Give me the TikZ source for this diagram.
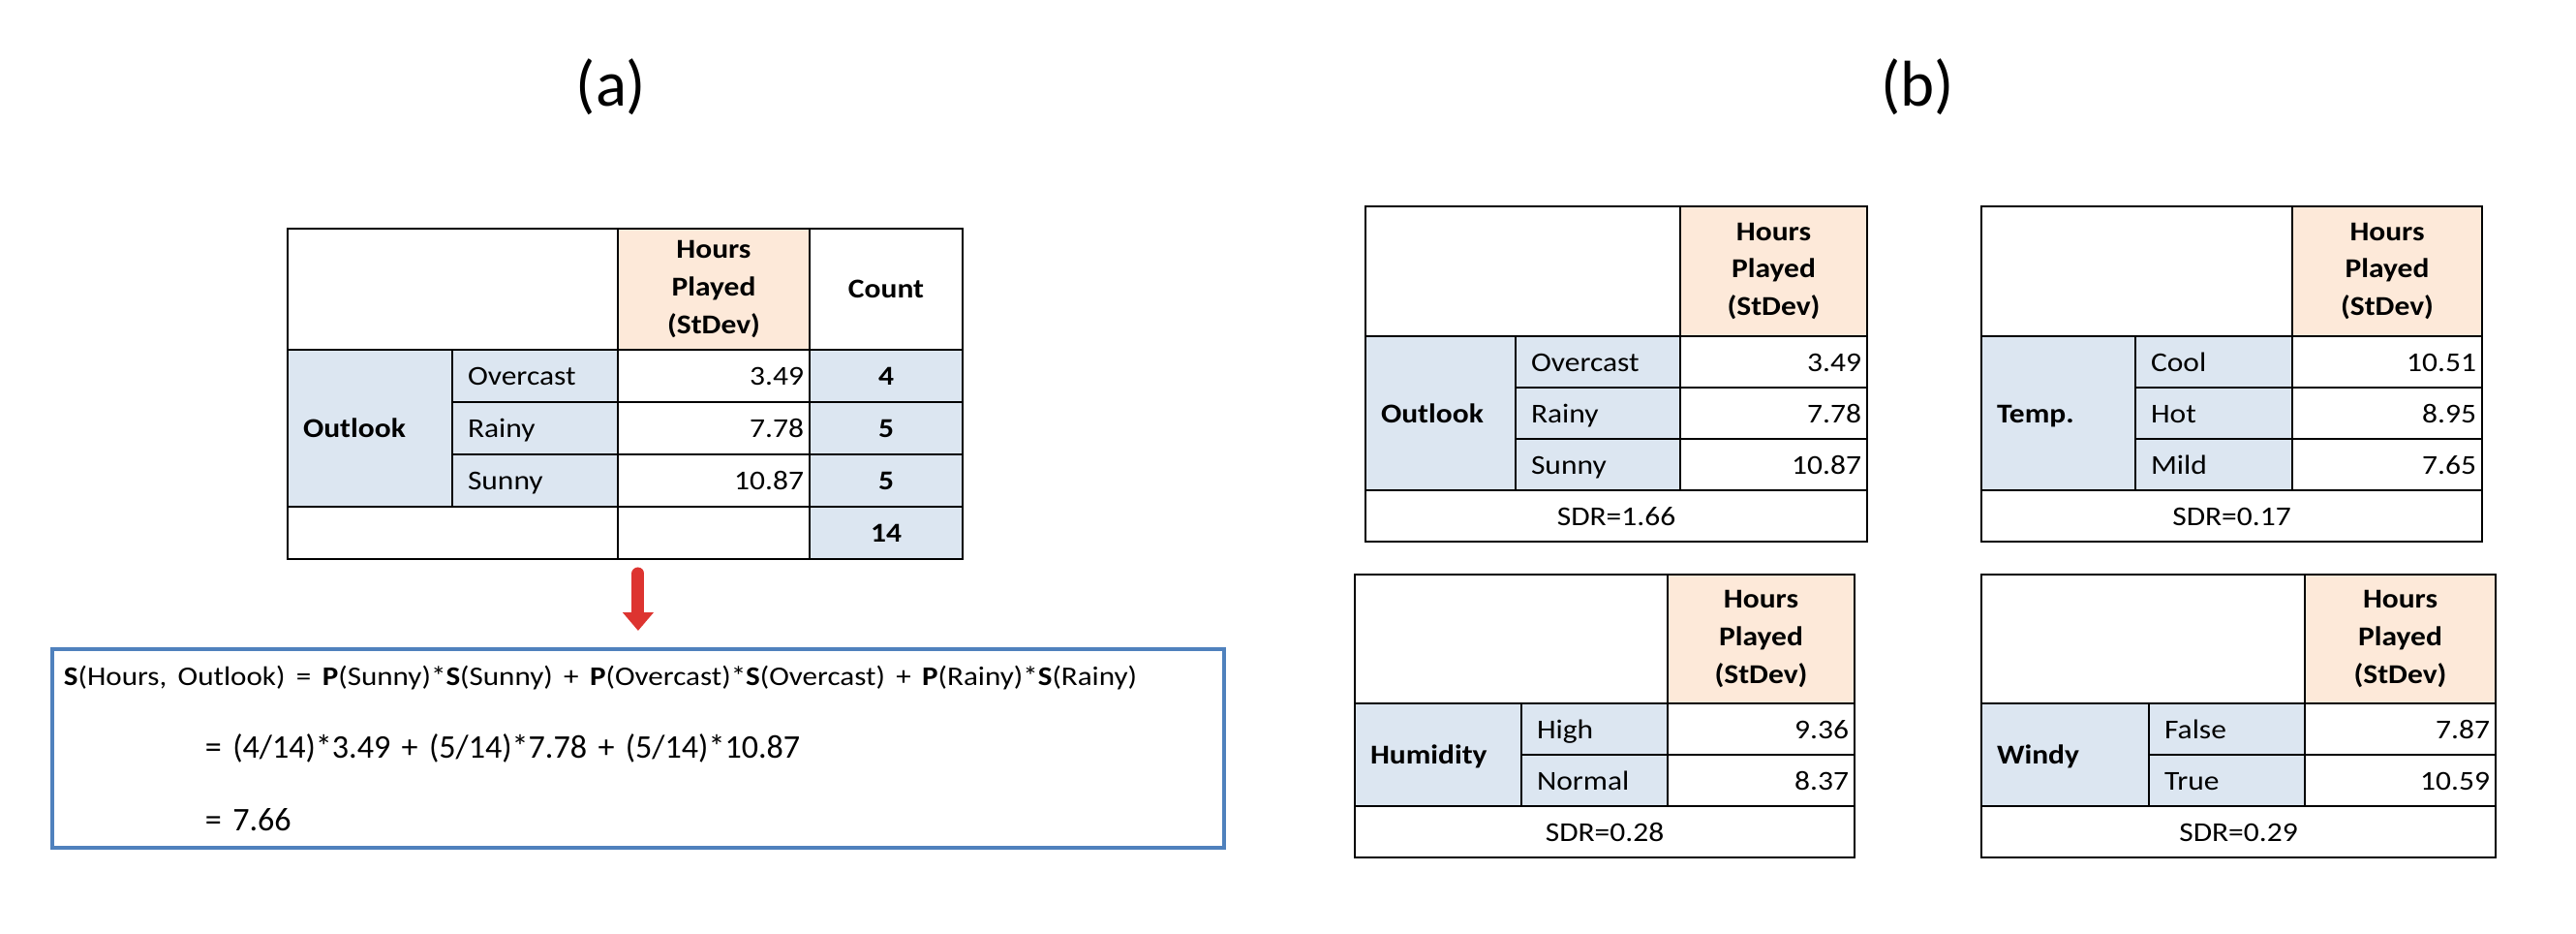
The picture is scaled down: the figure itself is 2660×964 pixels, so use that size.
\documentclass[tikz,border=0pt]{standalone}
\usepackage{fontspec}
\setmainfont{Carlito}
\newfontfamily\widefont[FakeStretch=1.12]{Carlito}
\usepackage{tikz}
\usetikzlibrary{arrows.meta, positioning}
\definecolor{catblue}{RGB}{220, 230, 241}
\definecolor{hdrpeach}{RGB}{253, 233, 217}
\definecolor{boxblue}{RGB}{79, 129, 189}
\definecolor{arrowred}{RGB}{221, 52, 48}
\newcommand{\tblfont}{\widefont\fontsize{8}{11}\selectfont}

\begin{document}
\begin{tikzpicture}[
    x=0.1mm, y=-0.1mm,
    cell/.style={draw=black, line width=0.6pt, anchor=north west, inner sep=0pt, outer sep=0pt, font=\tblfont},
    blank/.style={cell, fill=white},
    hdr/.style={cell, fill=hdrpeach, align=center, font=\tblfont\bfseries},
    grp/.style={cell, fill=catblue, inner xsep=1.6mm, text width=#1, align=left, text height=1.6ex, text depth=0.45ex, font=\tblfont\bfseries},
    cat/.style={cell, fill=catblue, inner xsep=1.6mm, text width=#1, align=left, text height=1.6ex, text depth=0.45ex},
    val/.style={cell, fill=white, inner xsep=0.6mm, text width=#1, align=right, text height=1.6ex, text depth=0.45ex},
    cnt/.style={cell, fill=catblue, text height=1.6ex, text depth=0.45ex, font=\tblfont\bfseries},
    sdr/.style={cell, fill=white, text height=1.6ex, text depth=0.45ex},
    arow/.style={minimum height=5.4mm},
    brow/.style={minimum height=5.3mm},
    title/.style={font=\fontsize{19}{23}\selectfont, inner sep=0pt},
    formula/.style={draw=boxblue, line width=1.1pt, anchor=north west, minimum height=20.5mm, text width=118.6mm, inner xsep=1.2mm, align=left, font=\fontsize{9.7}{21.3}\selectfont},
    bigarrow/.style={-{Triangle[width=3.1mm, length=1.9mm]}, line width=1.3mm, line cap=round, arrowred, shorten <=1.5mm, shorten >=1.7mm}
]
    \useasboundingbox (0,0) rectangle (2660,964);

    \node[title] (tita) at (631,90) {(a)};
    \node[title] (titb) at (1980,90) {(b)};

    \node[blank, minimum width=34.1mm, minimum height=12.5mm] (ablank) at (297,236) {};
    \node[hdr, minimum width=19.8mm, minimum height=12.5mm] (ahours) at (ablank.north east) {Hours\\Played\\(StDev)};
    \node[hdr, fill=white, minimum width=15.8mm, minimum height=12.5mm] (acount) at (ahours.north east) {Count};
    \node[grp=13.8mm, minimum height=16.2mm] (agrp) at (ablank.south west) {Outlook};
    \node[cat=13.9mm, arow] (aover) at (agrp.north east) {Overcast};
    \node[cat=13.9mm, arow] (arainy) at (aover.south west) {Rainy};
    \node[cat=13.9mm, arow] (asunny) at (arainy.south west) {Sunny};
    \node[val=18.6mm, arow] (aoverv) at (aover.north east) {3.49};
    \node[val=18.6mm, arow] (arainyv) at (arainy.north east) {7.78};
    \node[val=18.6mm, arow] (asunnyv) at (asunny.north east) {10.87};
    \node[cnt, minimum width=15.8mm, arow] (aoverc) at (aoverv.north east) {4};
    \node[cnt, minimum width=15.8mm, arow] (arainyc) at (arainyv.north east) {5};
    \node[cnt, minimum width=15.8mm, arow] (asunnyc) at (asunnyv.north east) {5};
    \node[blank, minimum width=34.1mm, arow] (atot) at (agrp.south west) {};
    \node[blank, minimum width=19.8mm, arow] (atotv) at (atot.north east) {};
    \node[cnt, minimum width=15.8mm, arow] (atotc) at (atotv.north east) {14};

    \node[formula] (formula) at (52,668) {{\widefont\fontsize{7.9}{21.3}\selectfont\textbf{S}(Hours, Outlook) = \textbf{P}(Sunny)*\textbf{S}(Sunny) + \textbf{P}(Overcast)*\textbf{S}(Overcast) + \textbf{P}(Rainy)*\textbf{S}(Rainy)}\\
        \hspace*{14.6mm}= (4/14)*3.49 + (5/14)*7.78 + (5/14)*10.87\\
        \hspace*{14.6mm}= 7.66};
    \draw[bigarrow] (formula.north |- atotv.south) -- (formula.north);

    \node[blank, minimum width=32.5mm, minimum height=13.4mm] (oblank) at (1410,213) {};
    \node[hdr, minimum width=19.3mm, minimum height=13.4mm] (ohours) at (oblank.north east) {Hours\\Played\\(StDev)};
    \node[grp=12.3mm, minimum height=15.9mm] (ogrp) at (oblank.south west) {Outlook};
    \node[cat=13.8mm, brow] (oover) at (ogrp.north east) {Overcast};
    \node[cat=13.8mm, brow] (orainy) at (oover.south west) {Rainy};
    \node[cat=13.8mm, brow] (osunny) at (orainy.south west) {Sunny};
    \node[val=18.1mm, brow] (ooverv) at (oover.north east) {3.49};
    \node[val=18.1mm, brow] (orainyv) at (orainy.north east) {7.78};
    \node[val=18.1mm, brow] (osunnyv) at (osunny.north east) {10.87};
    \node[sdr, minimum width=51.8mm, brow] (osdr) at (ogrp.south west) {SDR=1.66};

    \node[blank, minimum width=32.1mm, minimum height=13.4mm] (tblank) at (2046,213) {};
    \node[hdr, minimum width=19.6mm, minimum height=13.4mm] (thours) at (tblank.north east) {Hours\\Played\\(StDev)};
    \node[grp=12.7mm, minimum height=15.9mm] (tgrp) at (tblank.south west) {Temp.};
    \node[cat=13.0mm, brow] (tcool) at (tgrp.north east) {Cool};
    \node[cat=13.0mm, brow] (thot) at (tcool.south west) {Hot};
    \node[cat=13.0mm, brow] (tmild) at (thot.south west) {Mild};
    \node[val=18.4mm, brow] (tcoolv) at (tcool.north east) {10.51};
    \node[val=18.4mm, brow] (thotv) at (thot.north east) {8.95};
    \node[val=18.4mm, brow] (tmildv) at (tmild.north east) {7.65};
    \node[sdr, minimum width=51.7mm, brow] (tsdr) at (tgrp.south west) {SDR=0.17};

    \node[blank, minimum width=32.3mm, minimum height=13.3mm] (hblank) at (1399,593) {};
    \node[hdr, minimum width=19.3mm, minimum height=13.3mm] (hhours) at (hblank.north east) {Hours\\Played\\(StDev)};
    \node[grp=14.0mm, minimum height=10.6mm] (hgrp) at (hblank.south west) {Humidity};
    \node[cat=11.9mm, brow] (hhigh) at (hgrp.north east) {High};
    \node[cat=11.9mm, brow] (hnormal) at (hhigh.south west) {Normal};
    \node[val=18.1mm, brow] (hhighv) at (hhigh.north east) {9.36};
    \node[val=18.1mm, brow] (hnormalv) at (hnormal.north east) {8.37};
    \node[sdr, minimum width=51.6mm, brow] (hsdr) at (hgrp.south west) {SDR=0.28};

    \node[blank, minimum width=33.4mm, minimum height=13.3mm] (wblank) at (2046,593) {};
    \node[hdr, minimum width=19.7mm, minimum height=13.3mm] (whours) at (wblank.north east) {Hours\\Played\\(StDev)};
    \node[grp=14.1mm, minimum height=10.6mm] (wgrp) at (wblank.south west) {Windy};
    \node[cat=12.9mm, brow] (wfalse) at (wgrp.north east) {False};
    \node[cat=12.9mm, brow] (wtrue) at (wfalse.south west) {True};
    \node[val=18.5mm, brow] (wfalsev) at (wfalse.north east) {7.87};
    \node[val=18.5mm, brow] (wtruev) at (wtrue.north east) {10.59};
    \node[sdr, minimum width=53.1mm, brow] (wsdr) at (wgrp.south west) {SDR=0.29};
\end{tikzpicture}
\end{document}
